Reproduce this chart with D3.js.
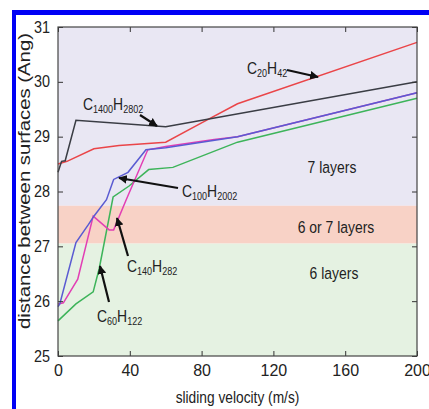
<!DOCTYPE html>
<html lang="en">
<head>
<meta charset="utf-8">
<script src="https://d3js.org/d3.v7.min.js"></script>
<style type="text/css">
body {
	margin: 0;
	background: white;
}
svg text {
	font-family: "Liberation Sans", Arial, sans-serif;
	fill: #222;
}
</style>
</head>
<body>
<svg id="chart"></svg>
<script type="text/javascript">

	// sliding velocity (m/s) vs distance between surfaces (Ang)
	var c20 = [[0, 28.5], [5, 28.55], [20, 28.78], [34, 28.84], [60, 28.9], [80, 29.25], [100, 29.6], [200, 30.72]];
	var c1400 = [[0, 28.35], [2, 28.55], [4, 28.56], [10, 29.3], [60, 29.18], [200, 30.0]];
	var c100 = [[0, 25.9], [1, 25.95], [10, 27.07], [17, 27.4], [20, 27.55], [27, 27.85], [31, 28.22], [39, 28.35], [49, 28.76], [60, 28.8], [100, 29.0], [200, 29.8]];
	var c140 = [[0, 25.95], [3, 25.97], [11, 26.4], [19.6, 27.55], [28.5, 27.3], [31, 27.3], [38, 27.85], [50, 28.76], [60, 28.82], [87, 28.95], [100, 29.0], [200, 29.8]];
	var c60 = [[0, 25.64], [10, 25.95], [19.6, 26.17], [23, 26.6], [30.7, 27.9], [39.6, 28.1], [50.5, 28.4], [64, 28.44], [100, 28.9], [200, 29.7]];

	var xTicks = [0, 40, 80, 120, 160, 200];
	var yTicks = [25, 26, 27, 28, 29, 30, 31];

	// layer regions
	var bands = [
		{lo: 27.74, hi: 31, color: "#e9e7f3", label: "7 layers", lx: 332, ly: 173},
		{lo: 27.05, hi: 27.74, color: "#f8d2c6", label: "6 or 7 layers", lx: 336, ly: 233},
		{lo: 25, hi: 27.05, color: "#e5f2e2", label: "6 layers", lx: 334, ly: 279}
	];

	var width = 429, height = 409;
	var mLeft = 58, mRight = 417, mTop = 27, mBottom = 356;
	var squeeze = 0.82;   // the figure's text looks horizontally condensed

	var svg = d3.select("#chart")
		.attr("width", width)
		.attr("height", height);

	// blue frame
	svg.append("rect").attr("x", 12).attr("y", 10).attr("width", width - 12).attr("height", 5).style("fill", "#0000f5");
	svg.append("rect").attr("x", 12).attr("y", 10).attr("width", 4).attr("height", height - 10).style("fill", "#0000f5");

	var x = d3.scaleLinear().domain([0, 200]).range([mLeft, mRight]);
	var y = d3.scaleLinear().domain([25, 31]).range([mBottom, mTop]);

	svg.selectAll("rect.band")
		.data(bands)
		.join("rect")
		.attr("class", "band")
		.attr("x", mLeft)
		.attr("width", mRight - mLeft)
		.attr("y", function(d) { return y(d.hi); })
		.attr("height", function(d) { return y(d.lo) - y(d.hi); })
		.style("fill", function(d) { return d.color; });

	svg.selectAll("text.band")
		.data(bands)
		.join("text")
		.attr("class", "band")
		.attr("transform", function(d) { return "translate(" + d.lx + "," + d.ly + ") scale(" + squeeze + ",1)"; })
		.attr("text-anchor", "middle")
		.style("font-size", "17px")
		.text(function(d) { return d.label; });

	var line = d3.line()
		.x(function(d) { return x(d[0]); })
		.y(function(d) { return y(d[1]); });

	var series = [
		{data: c60, color: "#3db45a"},
		{data: c140, color: "#e23fb4"},
		{data: c100, color: "#5a5bd2"},
		{data: c20, color: "#ea4548"},
		{data: c1400, color: "#3a3d44"}
	];

	svg.selectAll("path.series")
		.data(series)
		.join("path")
		.attr("class", "series")
		.attr("d", function(d) { return line(d.data); })
		.style("fill", "none")
		.style("stroke", function(d) { return d.color; })
		.style("stroke-width", 1.5);

	// axes with inward ticks
	var g = svg.append("g");
	g.append("g").attr("transform", "translate(0," + mBottom + ")")
		.call(d3.axisBottom(x).tickValues(xTicks).tickSize(-5).tickPadding(9));
	g.append("g").attr("transform", "translate(0," + mTop + ")")
		.call(d3.axisTop(x).tickValues(xTicks).tickSize(-5).tickFormat(""));
	g.append("g").attr("transform", "translate(" + mLeft + ",0)")
		.call(d3.axisLeft(y).tickValues(yTicks).tickFormat(d3.format("d")).tickSize(-5).tickPadding(9));
	g.append("g").attr("transform", "translate(" + mRight + ",0)")
		.call(d3.axisRight(y).tickValues(yTicks).tickSize(-5).tickFormat(""));
	g.selectAll(".domain").remove();
	g.selectAll(".tick line").style("stroke", "#333");
	g.selectAll(".tick text").style("font-size", "16px").style("fill", "#222")
		.style("font-family", "'Liberation Sans', Arial, sans-serif");
	g.selectAll(".tick text").attr("transform", function() {
		return d3.select(this.parentNode.parentNode).attr("transform").indexOf("translate(0") === 0 ? null : "scale(0.9,1)";
	});

	svg.append("rect")
		.attr("x", mLeft).attr("y", mTop)
		.attr("width", mRight - mLeft).attr("height", mBottom - mTop)
		.style("fill", "none").style("stroke", "#444").style("stroke-width", 1.2);

	// axis titles
	svg.append("text")
		.attr("transform", "translate(" + ((mLeft + mRight) / 2) + ",403) scale(0.86,1)")
		.attr("text-anchor", "middle")
		.style("font-size", "16px")
		.text("sliding velocity (m/s)");

	svg.append("text")
		.attr("transform", "translate(30,181) rotate(-90)")
		.attr("text-anchor", "middle")
		.attr("textLength", 296)
		.attr("lengthAdjust", "spacingAndGlyphs")
		.style("font-size", "16px")
		.text("distance between surfaces (Ang)");

	// molecule labels with arrows
	svg.append("defs").append("marker")
		.attr("id", "head")
		.attr("viewBox", "0 0 10 10")
		.attr("refX", 9).attr("refY", 5)
		.attr("markerWidth", 4).attr("markerHeight", 4)
		.attr("orient", "auto")
		.append("path")
		.attr("d", "M0,0 L10,5 L0,10 Z")
		.style("fill", "#111");

	var labels = [
		{c: "20", h: "42", x: 247, y: 74, ax1: 287, ay1: 70, ax2: 318, ay2: 77},
		{c: "1400", h: "2802", x: 83, y: 110, ax1: 140, ay1: 115, ax2: 157, ay2: 126},
		{c: "100", h: "2002", x: 182, y: 197, ax1: 178, ay1: 188, ax2: 119, ay2: 178},
		{c: "140", h: "282", x: 127, y: 272, ax1: 128, ay1: 256, ax2: 117, ay2: 218},
		{c: "60", h: "122", x: 97, y: 322, ax1: 109, ay1: 302, ax2: 100, ay2: 266}
	];

	labels.forEach(function(d) {
		var t = svg.append("text")
			.attr("transform", "translate(" + d.x + "," + d.y + ") scale(" + squeeze + ",1)")
			.style("font-size", "17px");
		t.append("tspan").text("C");
		t.append("tspan").attr("dy", 3).style("font-size", "11px").text(d.c);
		t.append("tspan").attr("dy", -3).text("H");
		t.append("tspan").attr("dy", 3).style("font-size", "11px").text(d.h);

		svg.append("line")
			.attr("x1", d.ax1).attr("y1", d.ay1)
			.attr("x2", d.ax2).attr("y2", d.ay2)
			.attr("marker-end", "url(#head)")
			.style("stroke", "#111")
			.style("stroke-width", 2.2);
	});

</script>
</body>
</html>
